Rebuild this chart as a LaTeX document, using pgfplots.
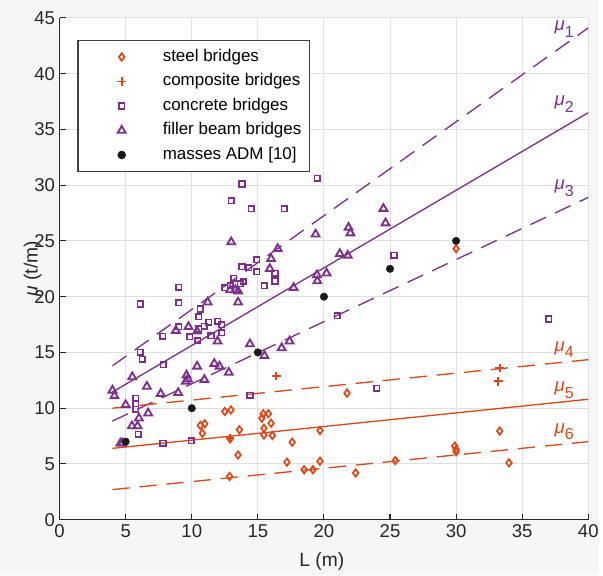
\documentclass[border=0pt]{standalone}
\usepackage{pgfplots}
\pgfplotsset{compat=1.18}
\usepackage{fontspec}
\setmainfont{Liberation Sans}
\definecolor{mred}{RGB}{220,72,24}
\definecolor{mpur}{RGB}{126,47,142}
\definecolor{figbg}{RGB}{246,246,246}
\pgfplotsset{lgimg/.style={legend image code/.code={\path[draw=none, fill=none] (0pt,-1pt) rectangle (58pt,1pt); \draw[##1, only marks] plot coordinates {(29pt,0pt)};}}}
\begin{document}
\begin{tikzpicture}
\fill[figbg] (-45pt,-42pt) rectangle (407.25pt,392.25pt);
\begin{axis}[
  scale only axis, width=399pt, height=378.75pt,
  xmin=0, xmax=40, ymin=0, ymax=45,
  xtick={0,5,...,40}, ytick={0,5,...,45},
  axis x line*=bottom, axis y line*=left,
  axis line style={-, draw=black!85, line width=0.8pt},
  axis background/.style={fill=white},
  grid=major, grid style={black!12, line width=0.7pt},
  tick align=inside, major tick length=4.5pt,
  tick style={black!85, line width=0.8pt},
  ticklabel style={font=\fontsize{14}{16}\selectfont, text=black!85},
  /pgf/number format/assume math mode=true,
  xlabel={L (m)}, ylabel={{\itshape μ} (t/m)},
  label style={font=\fontsize{14.5}{17}\selectfont, text=black!85},
  xlabel style={at={(axis description cs:0.496,-0.083)}, anchor=center},
  ylabel style={at={(axis description cs:-0.051,0.5)}, anchor=center},
  legend style={at={(axis cs:1.35,43.0)}, anchor=north west, draw=black!75,
    line width=0.8pt, fill=white, font=\fontsize{12.8}{15}\selectfont,
    row sep=2pt, inner xsep=4pt, inner ysep=4pt,
    nodes={inner sep=2pt, text height=9.5pt, text depth=3pt},
    cells={anchor=west}},
]
% regression lines
\addplot[mpur, line width=1pt, dash pattern=on 13pt off 7.5pt, forget plot] coordinates {(4,13.8) (40,44.1)};
\addplot[mpur, line width=1pt, forget plot] coordinates {(4,11.45) (40,36.5)};
\addplot[mpur, line width=1pt, dash pattern=on 13pt off 7.5pt, forget plot] coordinates {(4,8.85) (40,28.9)};
\addplot[mred, line width=1pt, dash pattern=on 13pt off 7.5pt, forget plot] coordinates {(4,10.0) (40,14.35)};
\addplot[mred, line width=1pt, forget plot] coordinates {(4,6.4) (40,10.8)};
\addplot[mred, line width=1pt, dash pattern=on 13pt off 7.5pt, forget plot] coordinates {(4,2.7) (40,7.0)};
% steel bridges
\addplot[only marks, lgimg, mark=diamond, mark size=2.8pt, color=mred, mark options={line width=1.3pt, solid}] coordinates {
(10.65,8.45) (10.98,8.6) (10.8,7.75) (12.5,9.7) (12.96,9.84) (13.6,8.06) (12.9,7.25) (13.5,5.8) (12.86,3.88)
(15.4,9.5) (15.8,9.5) (15.3,9.1) (16.0,8.65) (15.46,8.2) (15.46,7.6) (16.1,7.55) (19.7,8.0) (17.6,6.95)
(17.2,5.16) (19.7,5.24) (18.5,4.48) (19.17,4.48) (21.75,11.35) (22.4,4.19) (25.4,5.3) (30,24.3)
(29.9,6.6) (30,6.3) (30,6.1) (33.3,7.95) (34.0,5.1)};
\addlegendentry{steel bridges}
% composite bridges
\addplot[only marks, lgimg, mark=+, mark size=3.2pt, color=mred, mark options={line width=1.4pt, solid}] coordinates {
(16.4,12.9) (33.3,13.6) (33.2,12.4) (12.9,7.3)};
\addlegendentry{composite bridges}
% concrete bridges
\addplot[only marks, lgimg, mark=square, mark size=2.1pt, color=mpur, mark options={line width=1.2pt, solid}] coordinates {
(13.8,30.1) (19.5,30.6) (12.98,28.6) (14.5,27.9) (17.0,27.9)
(14.9,23.3) (13.8,22.7) (14.3,22.6) (14.9,22.25) (16.3,22.1) (16.3,21.4) (15.5,21.0) (13.9,21.36) (13.66,21.15)
(13.16,21.66) (12.9,20.97) (12.5,20.8)
(10.65,18.9) (10.53,18.2) (9.02,20.85) (9.02,19.45) (6.09,19.35) (9.02,17.3) (10.53,17.1) (10.95,17.35)
(11.28,17.7) (11.95,17.8) (12.28,17.5) (12.28,16.75) (7.8,16.45) (9.85,16.4) (10.45,16.07) (11.45,16.5)
(6.09,15.0) (6.27,14.4) (7.85,13.9) (5.75,10.9) (5.75,10.4) (5.75,9.9) (5.96,7.66) (7.82,6.86) (9.97,7.07)
(14.4,11.17) (24.0,11.8) (21.0,18.3) (25.3,23.7) (37.0,18.0)};
\addlegendentry{concrete bridges}
% filler beam bridges
\addplot[only marks, lgimg, mark=triangle, mark size=3.4pt, color=mpur, mark options={line width=1.4pt, solid}] coordinates {
(12.98,24.9) (19.37,25.6) (21.86,26.2) (22.0,25.7) (24.5,27.9) (24.66,26.6) (16.5,24.3) (16.0,23.4) (15.9,22.5)
(12.9,20.6) (13.3,20.6) (13.5,20.5) (13.5,19.5) (17.7,20.8) (19.47,21.95) (20.2,22.1) (19.5,21.4) (21.2,23.85)
(21.8,23.7) (11.2,19.5) (8.8,16.96) (9.75,17.3) (10.4,16.9) (11.95,16.0)
(10.4,13.75) (11.7,14.0) (12.1,13.75) (12.8,13.2) (5.5,12.8) (6.6,11.95) (9.6,12.95) (9.7,12.6) (9.55,12.4)
(10.95,12.56) (4.0,11.6) (4.15,11.1) (7.65,11.3) (8.97,11.38) (5.0,10.3) (6.7,9.55) (6.0,9.1) (5.47,8.4)
(5.9,8.4) (4.6,6.85) (4.75,6.85) (14.4,15.75) (15.5,14.7) (16.8,15.4) (17.4,16.0)};
\addlegendentry{filler beam bridges}
% masses ADM
\addplot[only marks, lgimg, mark=*, mark size=2.8pt, color=black!90] coordinates {
(5,7) (10,10) (15,15) (20,20) (25,22.5) (30,25)};
\addlegendentry{masses ADM [10]}
% line labels
\node[anchor=base west, text=mpur, font=\fontsize{14}{16}\selectfont, inner sep=0pt] at (axis cs:37.44,43.85) {{\itshape μ}\raisebox{-5pt}{\fontsize{12}{14}\selectfont 1}};
\node[anchor=base west, text=mpur, font=\fontsize{14}{16}\selectfont, inner sep=0pt] at (axis cs:37.44,37.1) {{\itshape μ}\raisebox{-5pt}{\fontsize{12}{14}\selectfont 2}};
\node[anchor=base west, text=mpur, font=\fontsize{14}{16}\selectfont, inner sep=0pt] at (axis cs:37.44,29.6) {{\itshape μ}\raisebox{-5pt}{\fontsize{12}{14}\selectfont 3}};
\node[anchor=base west, text=mred, font=\fontsize{14}{16}\selectfont, inner sep=0pt] at (axis cs:37.44,15.1) {{\itshape μ}\raisebox{-5pt}{\fontsize{12}{14}\selectfont 4}};
\node[anchor=base west, text=mred, font=\fontsize{14}{16}\selectfont, inner sep=0pt] at (axis cs:37.44,11.5) {{\itshape μ}\raisebox{-5pt}{\fontsize{12}{14}\selectfont 5}};
\node[anchor=base west, text=mred, font=\fontsize{14}{16}\selectfont, inner sep=0pt] at (axis cs:37.44,7.75) {{\itshape μ}\raisebox{-5pt}{\fontsize{12}{14}\selectfont 6}};
\end{axis}
\end{tikzpicture}
\end{document}
